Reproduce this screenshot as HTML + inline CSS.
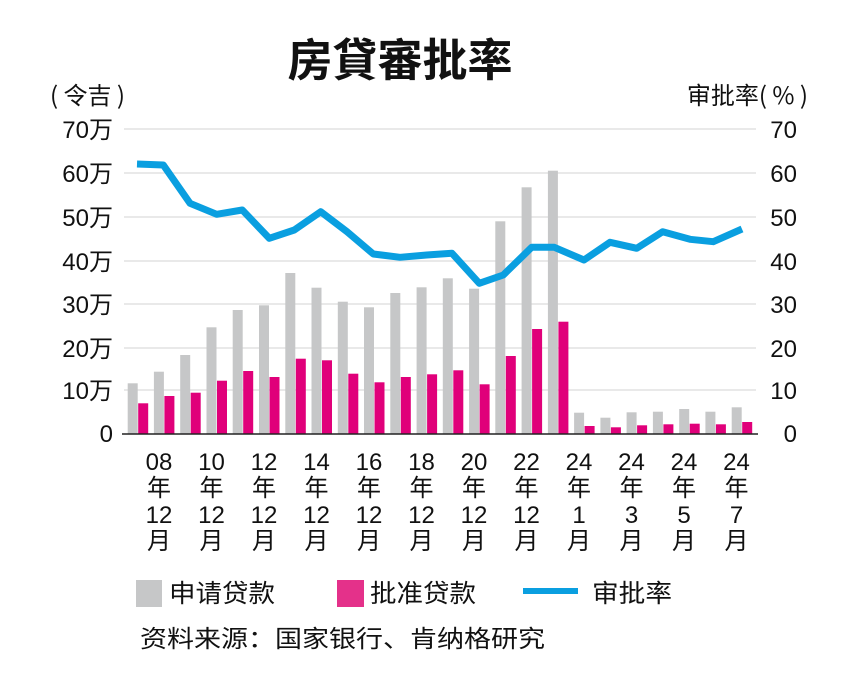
<!DOCTYPE html>
<html><head><meta charset="utf-8"><style>
html,body{margin:0;padding:0;background:#fff;}
svg{display:block;}
text{font-family:"Liberation Sans","Noto Sans CJK SC",sans-serif;fill:#111;}
.cjk{font-family:"Noto Sans CJK SC",sans-serif;}
</style></head><body>
<svg width="862" height="690" viewBox="0 0 862 690" xmlns="http://www.w3.org/2000/svg">
<text x="400" y="76" text-anchor="middle" font-size="45" font-weight="bold" class="cjk">房貸審批率</text>
<text x="50" y="104" font-size="24" class="cjk">( 令吉 )</text>
<text x="808" y="104" font-size="24" text-anchor="end" class="cjk">审批率( % )</text>
<g stroke="#e2e2e2" stroke-width="1.5">
<line x1="124" y1="129" x2="756" y2="129"/>
<line x1="124" y1="173" x2="756" y2="173"/>
<line x1="124" y1="217" x2="756" y2="217"/>
<line x1="124" y1="261" x2="756" y2="261"/>
<line x1="124" y1="304" x2="756" y2="304"/>
<line x1="124" y1="348" x2="756" y2="348"/>
<line x1="124" y1="390" x2="756" y2="390"/>
</g>
<g font-size="24" text-anchor="end">
<text x="113" y="138">70万</text><text x="113" y="182">60万</text><text x="113" y="226">50万</text><text x="113" y="270">40万</text><text x="113" y="313">30万</text><text x="113" y="357">20万</text><text x="113" y="399">10万</text><text x="113" y="442">0</text>
</g>
<g font-size="24" text-anchor="end">
<text x="797" y="138">70</text><text x="797" y="182">60</text><text x="797" y="226">50</text><text x="797" y="270">40</text><text x="797" y="313">30</text><text x="797" y="357">20</text><text x="797" y="399">10</text><text x="797" y="442">0</text>
</g>
<g fill="#c6c7c8">
<rect x="127.7" y="383.3" width="10" height="50.7"/>
<rect x="153.9" y="371.7" width="10" height="62.3"/>
<rect x="180.2" y="355" width="10" height="79"/>
<rect x="206.5" y="327.3" width="10" height="106.7"/>
<rect x="232.7" y="310" width="10" height="124"/>
<rect x="259" y="305.3" width="10" height="128.7"/>
<rect x="285.3" y="273" width="10" height="161"/>
<rect x="311.5" y="287.7" width="10" height="146.3"/>
<rect x="337.8" y="301.7" width="10" height="132.3"/>
<rect x="364" y="307.3" width="10" height="126.7"/>
<rect x="390.3" y="293" width="10" height="141"/>
<rect x="416.6" y="287.3" width="10" height="146.7"/>
<rect x="442.8" y="278.3" width="10" height="155.7"/>
<rect x="469.1" y="288.7" width="10" height="145.3"/>
<rect x="495.3" y="221.3" width="10" height="212.7"/>
<rect x="521.6" y="187.3" width="10" height="246.7"/>
<rect x="547.9" y="170.7" width="10" height="263.3"/>
<rect x="574.1" y="412.7" width="10" height="21.3"/>
<rect x="600.4" y="417.7" width="10" height="16.3"/>
<rect x="626.6" y="412.3" width="10" height="21.7"/>
<rect x="652.9" y="411.7" width="10" height="22.3"/>
<rect x="679.2" y="409" width="10" height="25"/>
<rect x="705.4" y="411.7" width="10" height="22.3"/>
<rect x="731.7" y="407.3" width="10" height="26.7"/>
</g>
<g fill="#e0007a">
<rect x="138.2" y="403.3" width="10" height="30.7"/>
<rect x="164.4" y="396" width="10" height="38"/>
<rect x="190.7" y="392.7" width="10" height="41.3"/>
<rect x="217" y="380.7" width="10" height="53.3"/>
<rect x="243.2" y="371" width="10" height="63"/>
<rect x="269.5" y="377" width="10" height="57"/>
<rect x="295.8" y="358.7" width="10" height="75.3"/>
<rect x="322" y="360.3" width="10" height="73.7"/>
<rect x="348.3" y="373.7" width="10" height="60.3"/>
<rect x="374.5" y="382.3" width="10" height="51.7"/>
<rect x="400.8" y="377" width="10" height="57"/>
<rect x="427.1" y="374.3" width="10" height="59.7"/>
<rect x="453.3" y="370.3" width="10" height="63.7"/>
<rect x="479.6" y="384.3" width="10" height="49.7"/>
<rect x="505.8" y="356" width="10" height="78"/>
<rect x="532.1" y="329" width="10" height="105"/>
<rect x="558.4" y="321.7" width="10" height="112.3"/>
<rect x="584.6" y="426" width="10" height="8"/>
<rect x="610.9" y="427.3" width="10" height="6.7"/>
<rect x="637.1" y="425.3" width="10" height="8.7"/>
<rect x="663.4" y="424.3" width="10" height="9.7"/>
<rect x="689.7" y="423.7" width="10" height="10.3"/>
<rect x="715.9" y="424.3" width="10" height="9.7"/>
<rect x="742.2" y="422" width="10" height="12"/>
</g>
<line x1="122" y1="434" x2="758" y2="434" stroke="#222" stroke-width="1.5"/>
<polyline fill="none" stroke="#0a9fe0" stroke-width="7" stroke-linejoin="round" points="137,164 163.3,165 190,203.3 216.7,214.3 242.3,210 269.3,238.3 294.3,230 320.7,211.7 347,231.7 373.3,254 400,257.3 426.7,255 452,253.3 479.3,283.3 503.3,275 531.7,247.3 554.3,247.3 584,260 610,242.3 636.7,248.3 662.7,231.7 690,239.3 713.3,241.7 742,229"/>
<g font-size="24" text-anchor="middle">
<text x="159" y="470">08</text><text x="211.5" y="470">10</text><text x="264" y="470">12</text><text x="316.5" y="470">14</text><text x="369" y="470">16</text><text x="421.5" y="470">18</text><text x="474" y="470">20</text><text x="526.5" y="470">22</text><text x="579" y="470">24</text><text x="631.5" y="470">24</text><text x="684" y="470">24</text><text x="736.5" y="470">24</text>
<text x="159" y="496">年</text><text x="211.5" y="496">年</text><text x="264" y="496">年</text><text x="316.5" y="496">年</text><text x="369" y="496">年</text><text x="421.5" y="496">年</text><text x="474" y="496">年</text><text x="526.5" y="496">年</text><text x="579" y="496">年</text><text x="631.5" y="496">年</text><text x="684" y="496">年</text><text x="736.5" y="496">年</text>
<text x="159" y="523">12</text><text x="211.5" y="523">12</text><text x="264" y="523">12</text><text x="316.5" y="523">12</text><text x="369" y="523">12</text><text x="421.5" y="523">12</text><text x="474" y="523">12</text><text x="526.5" y="523">12</text><text x="579" y="523">1</text><text x="631.5" y="523">3</text><text x="684" y="523">5</text><text x="736.5" y="523">7</text>
<text x="159" y="549">月</text><text x="211.5" y="549">月</text><text x="264" y="549">月</text><text x="316.5" y="549">月</text><text x="369" y="549">月</text><text x="421.5" y="549">月</text><text x="474" y="549">月</text><text x="526.5" y="549">月</text><text x="579" y="549">月</text><text x="631.5" y="549">月</text><text x="684" y="549">月</text><text x="736.5" y="549">月</text>
</g>
<rect x="136" y="580" width="26" height="27" fill="#c6c7c8"/>
<text x="169" y="602" font-size="25" textLength="106" lengthAdjust="spacingAndGlyphs">申请贷款</text>
<rect x="337" y="580" width="27" height="27" fill="#e4318a"/>
<text x="370" y="602" font-size="25" textLength="106" lengthAdjust="spacingAndGlyphs">批准贷款</text>
<line x1="523" y1="591" x2="578" y2="591" stroke="#0a9fe0" stroke-width="6"/>
<text x="592" y="602" font-size="25" textLength="80" lengthAdjust="spacingAndGlyphs">审批率</text>
<text x="140" y="647" font-size="24" textLength="405" lengthAdjust="spacingAndGlyphs">资料来源：国家银行、肯纳格研究</text>
</svg>
</body></html>
